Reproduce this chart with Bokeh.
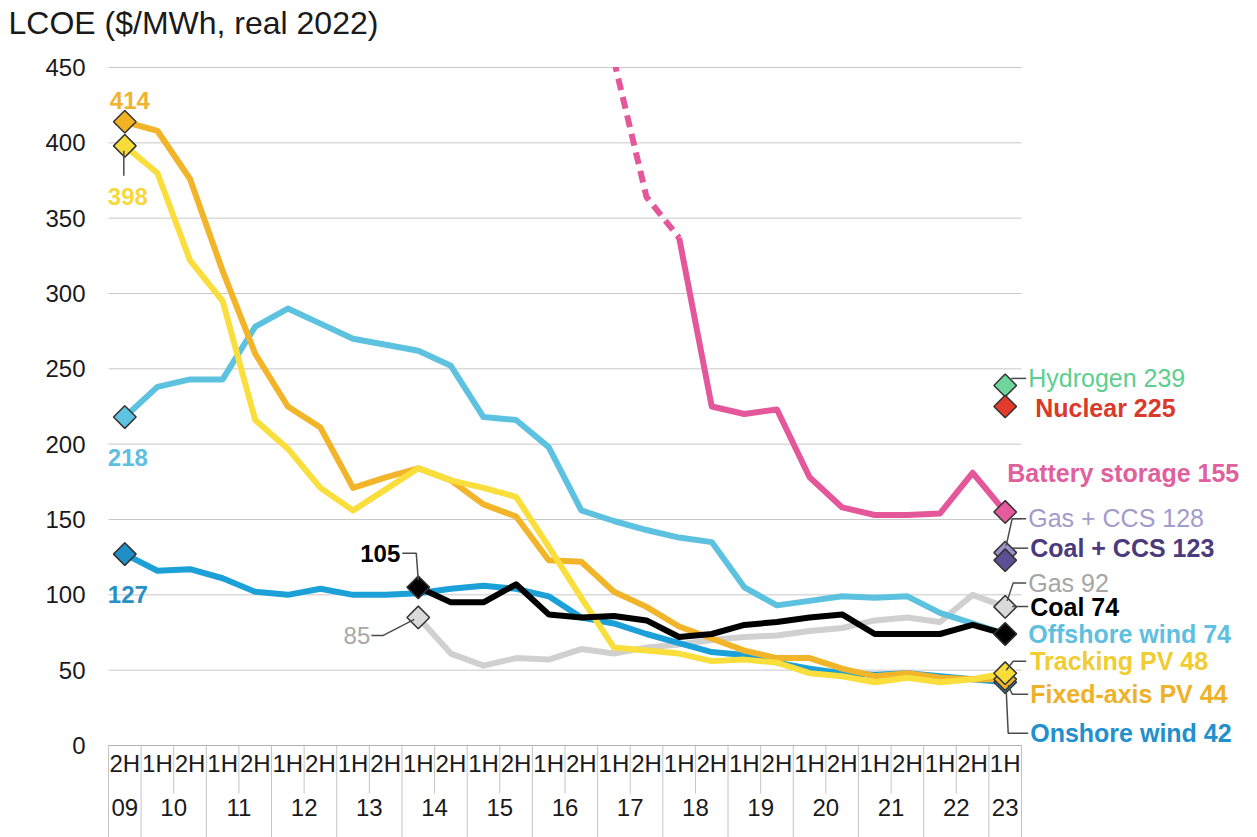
import math
from bokeh.plotting import figure
from bokeh.models import Range1d, FixedTicker, Label, LinearAxis
from bokeh.embed import file_html
from bokeh.resources import INLINE

NaN = float("nan")

# ---------------- data ----------------
years = ["09", "10", "11", "12", "13", "14", "15", "16", "17", "18", "19", "20", "21", "22", "23"]
halves = ["2H"] + ["1H", "2H"] * 13 + ["1H"]
y_ticks = [0, 50, 100, 150, 200, 250, 300, 350, 400, 450]

fixed_pv = [414, 408, 376, 315, 260, 225, 211, 171, 178, 184, 176, 160, 152, 123, 122, 102, 92, 79, 71, 63,
            58, 58, 51, 46, 48, 45, 44, 44]
tracking_pv = [398, 380, 322, 295, 216, 197, 171, 156, 170, 184, 176, 171, 165, 132, 98, 65, 63, 61, 56, 57,
               55, 48, 46, 42, 45, 42, 44, 48]
offshore_wind = [218, 238, 243, 243, 278, 290, 280, 270, 266, 262, 252, 218, 216, 198, 156, 149, 143, 138, 135, 105,
                 93, 96, 99, 98, 99, 88, 81, 74]
onshore_wind = [127, 116, 117, 111, 102, 100, 104, 100, 100, 101, 104, 106, 104, 99, 85, 81, 74, 68, 62, 60,
                55, 51, 48, 47, 48, 46, 44, 42]
coal = [NaN] * 9 + [105, 95, 95, 107, 87, 85, 86, 83, 72, 74, 80, 82, 85, 87, 74, 74, 74, 80, 74]
gas = [NaN] * 9 + [85, 61, 53, 58, 57, 64, 61, 65, 67, 70, 72, 73, 76, 78, 83, 85, 82, 100, 92]
battery_early = [NaN] * 15 + [455, 364, 337] + [NaN] * 10
battery = [NaN] * 17 + [337, 225, 220, 223, 178, 158, 153, 153, 154, 181, 155]
hydrogen = 239
nuclear = 225
gas_ccs = 128
coal_ccs = 123

N = len(halves)
LAST = N - 1
xc = [i + 0.5 for i in range(N)]                       # period centres (one unit per half-year)
year_pos = [0.5] + [2.0 * k for k in range(1, 14)] + [N - 0.5]
boundaries = list(range(N + 1))

# ---------------- geometry ----------------
FONT = "Liberation Sans"
W, H = 1257, 837
LEFT_PX, TOP_PX = 108, 67          # chart area: x 108..1021, y 67..745
CHART_W, CHART_H = 913, 678
PX_X = CHART_W / N
PX_Y = CHART_H / 450.0
ZERO_PX = TOP_PX + CHART_H

x_range = Range1d(-LEFT_PX / PX_X, (W - LEFT_PX) / PX_X)
y_range = Range1d(-(H - ZERO_PX) / PX_Y, 450 + TOP_PX / PX_Y)

p = figure(x_range=x_range, y_range=y_range, width=W, height=H, min_border=0,
           output_backend="svg", toolbar_location=None)
p.outline_line_color = None
p.background_fill_color = "white"
p.border_fill_color = "white"
p.xgrid.visible = False
p.ygrid.visible = False

ya = p.yaxis[0]
ya.fixed_location = 0
ya.bounds = (0, 450)
ya.ticker = FixedTicker(ticks=y_ticks)
ya.axis_line_color = None
ya.major_tick_line_color = None
ya.minor_tick_line_color = None
ya.major_tick_out = 0
ya.major_tick_in = 0
ya.major_label_standoff = 23
ya.major_label_text_font = FONT
ya.major_label_text_font_size = "24px"
ya.major_label_text_color = "#1a1a1a"

xa = p.xaxis[0]
xa.fixed_location = 0
xa.bounds = (0, N)
xa.ticker = FixedTicker(ticks=xc)
xa.major_label_overrides = {x: h for x, h in zip(xc, halves)}
xa.axis_line_color = "#b0b0b0"
xa.axis_line_width = 1
xa.major_tick_line_color = None
xa.minor_tick_line_color = None
xa.major_tick_out = 0
xa.major_tick_in = 0
xa.major_label_standoff = 4
xa.major_label_text_font = FONT
xa.major_label_text_font_size = "24px"
xa.major_label_text_color = "#1a1a1a"

# second label row: years
YEAR_ROW = -(798 - ZERO_PX) / PX_Y
year_axis = LinearAxis(
    fixed_location=YEAR_ROW, bounds=(0, N),
    ticker=FixedTicker(ticks=year_pos),
    major_label_overrides={x: y for x, y in zip(year_pos, years)},
    axis_line_color=None, major_tick_line_color=None, minor_tick_line_color=None,
    major_tick_out=0, major_tick_in=0, major_label_standoff=0,
    major_label_text_font=FONT, major_label_text_font_size="24px", major_label_text_color="#1a1a1a",
)
p.add_layout(year_axis, "below")

# horizontal grid lines limited to the chart area
p.segment(x0=[0] * len(y_ticks), y0=y_ticks, x1=[N] * len(y_ticks), y1=y_ticks,
          line_color="#c8c8c8", line_width=1)

# category separators under the axis: long at year boundaries, short inside a year
LONG_END = y_range.start
SHORT_END = -(793 - ZERO_PX) / PX_Y
sep_end = [LONG_END if (k % 2 == 1 or k in (0, N)) else SHORT_END for k in boundaries]
p.segment(x0=boundaries, y0=[0] * len(boundaries), x1=boundaries, y1=sep_end,
          line_color="#c4c4c4", line_width=1)

# ---------------- lines ----------------
LW = 6
p.line(x=xc, y=gas, line_width=LW, line_color="#d0d0d0", line_join="round")
p.line(x=xc, y=offshore_wind, line_width=LW, line_color="#5dc2df", line_join="round")
p.line(x=xc, y=onshore_wind, line_width=LW, line_color="#1ba0d8", line_join="round")
p.line(x=xc, y=fixed_pv, line_width=LW, line_color="#f2b428", line_join="round")
p.line(x=xc, y=tracking_pv, line_width=LW, line_color="#f9de3c", line_join="round")
p.line(x=xc, y=coal, line_width=LW, line_color="#000000", line_join="round")
p.line(x=xc, y=battery_early, line_width=LW, line_color="#e4589b", line_dash="12 7", line_join="round")
p.line(x=xc, y=battery, line_width=LW, line_color="#e4589b", line_join="round")
# white cover above the 450 line so the dashed line stops at the chart top
p.quad(left=[x_range.start], right=[x_range.end], bottom=[450.4], top=[y_range.end],
       fill_color="white", line_color=None)


def diamond(i, v, fill):
    p.scatter(x=[xc[i]], y=[v], marker="square", angle=math.pi / 4, size=16,
              fill_color=fill, line_color="#333333", line_width=1.5)


# start markers
diamond(0, offshore_wind[0], "#5ec3e0")
diamond(0, onshore_wind[0], "#1e8fc4")
diamond(0, fixed_pv[0], "#f2b323")
diamond(0, tracking_pv[0], "#f7dc3a")
diamond(9, gas[9], "#dadada")
diamond(9, coal[9], "#000000")

# end markers
diamond(LAST, battery[LAST], "#e45c9e")
diamond(LAST, hydrogen, "#6ed69c")
diamond(LAST, nuclear, "#e23b2b")
diamond(LAST, gas_ccs, "#9c90c8")
diamond(LAST, coal_ccs, "#5e4e92")
diamond(LAST, gas[LAST], "#dadada")
diamond(LAST, offshore_wind[LAST], "#5ec3e0")
diamond(LAST, coal[LAST], "#000000")
diamond(LAST, onshore_wind[LAST], "#1e8fc4")
diamond(LAST, fixed_pv[LAST], "#f2b323")
diamond(LAST, tracking_pv[LAST], "#f7dc3a")


# ---------------- annotations ----------------
def add_label(i, v, text, color, dx, dy, align="left", bold=True, size="24px"):
    p.add_layout(Label(x=xc[i], y=v, x_offset=dx, y_offset=dy, text=text, text_color=color,
                       text_align=align, text_baseline="middle", text_font=FONT,
                       text_font_size=size, text_font_style="bold" if bold else "normal"))


def add_leader(i, v, pts):
    xs = [xc[i] + dx / PX_X for dx, _ in pts]
    ys = [v + dy / PX_Y for _, dy in pts]
    p.line(x=xs, y=ys, line_color="#4a4a4a", line_width=1.5)


# title
p.add_layout(Label(x=0, y=450, x_offset=-100, y_offset=45, text="LCOE ($/MWh, real 2022)",
                   text_color="#1a1a1a", text_align="left", text_baseline="middle",
                   text_font=FONT, text_font_size="32px"))

# start labels
add_label(0, fixed_pv[0], f"{fixed_pv[0]}", "#f0b330", 5, 21, align="center")
add_label(0, tracking_pv[0], f"{tracking_pv[0]}", "#f5d840", 3, -51, align="center")
add_leader(0, tracking_pv[0], [(-1, -5), (-1, -30)])
add_label(0, offshore_wind[0], f"{offshore_wind[0]}", "#5ebfdf", 3, -40, align="center")
add_label(0, onshore_wind[0], f"{onshore_wind[0]}", "#2a8fc6", 3, -40, align="center")
add_label(9, coal[9], f"{coal[9]}", "#000000", -18, 34, align="right")
add_leader(9, coal[9], [(-16, 34), (-2, 34), (0, 7)])
add_label(9, gas[9], f"{gas[9]}", "#a8a8a8", -48, -18, align="right", bold=False)
add_leader(9, gas[9], [(-47, -18), (-35, -18), (-4, -2)])

# end labels
ends = [
    ("Hydrogen", hydrogen, "#5ccf8f", 23, 7, False, [(6, 7), (21, 7)]),
    ("Nuclear", nuclear, "#d93a2b", 30, -1, True, None),
    ("Battery storage", battery[LAST], "#e0609e", 2, 39, True, None),
    ("Gas + CCS", gas_ccs, "#a59bcb", 23, 35, False, [(21, 34), (7, 34), (1, 7)]),
    ("Coal + CCS", coal_ccs, "#4c3b7c", 25, 12, True, [(7, 12), (23, 12)]),
    ("Gas", gas[LAST], "#a6a6a6", 23, 24, False, [(21, 24), (8, 24), (2, 6)]),
    ("Coal", coal[LAST], "#000000", 25, 27.5, True, [(7, 27.5), (23, 27.5)]),
    ("Offshore wind", offshore_wind[LAST], "#5ec0df", 23, 0, True, None),
    ("Tracking PV", tracking_pv[LAST], "#f0cd30", 25, 12, True, [(21, 12), (8, 12), (1, 3)]),
    ("Fixed-axis PV", fixed_pv[LAST], "#edb22a", 25, -15, True, [(3, -6), (7, -15), (23, -15)]),
    ("Onshore wind", onshore_wind[LAST], "#2190cc", 25, -51, True, [(1, -8), (3, -51), (23, -51)]),
]
for name, v, color, dx, dy, bold, leader in ends:
    add_label(LAST, v, f"{name} {v:g}", color, dx, dy, bold=bold, size="25px")
    if leader:
        add_leader(LAST, v, leader)

open("out.html", "w").write(file_html(p, INLINE))
